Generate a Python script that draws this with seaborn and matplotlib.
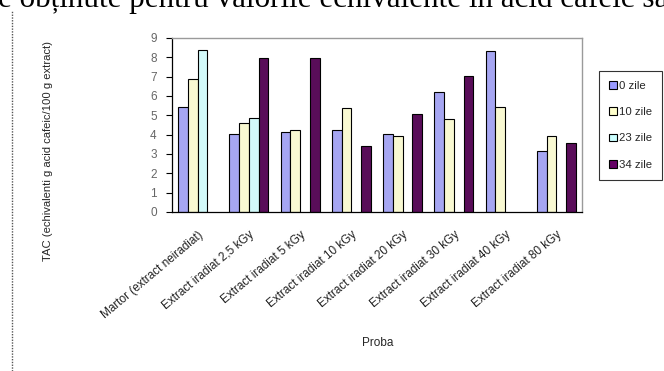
import numpy as np
import pandas as pd
import matplotlib
matplotlib.use("Agg")
import matplotlib.pyplot as plt
from matplotlib.lines import Line2D
from matplotlib.patches import Patch
import seaborn as sns

# Antioxidant capacity per sample and storage time
categories = [
    "Martor (extract neiradiat)",
    "Extract iradiat 2,5 kGy",
    "Extract iradiat 5 kGy",
    "Extract iradiat 10 kGy",
    "Extract iradiat 20 kGy",
    "Extract iradiat 30 kGy",
    "Extract iradiat 40 kGy",
    "Extract iradiat 80 kGy",
]
series = ["0 zile", "10 zile", "23 zile", "34 zile"]
zile_0 = [5.45, 4.04, 4.16, 4.25, 4.06, 6.20, 8.33, 3.14]
zile_10 = [6.88, 4.58, 4.25, 5.38, 3.95, 4.79, 5.45, 3.95]
zile_23 = [8.40, 4.84, np.nan, np.nan, np.nan, np.nan, np.nan, np.nan]
zile_34 = [np.nan, 7.96, 7.96, 3.41, 5.05, 7.02, np.nan, 3.57]
y_ticks = list(range(0, 10))

colors = ["#9999FF", "#FFFFCC", "#CCFFFF", "#660066"]

rows = []
for name, vals in zip(series, [zile_0, zile_10, zile_23, zile_34]):
    for cat, v in zip(categories, vals):
        if not np.isnan(v):
            rows.append({"Proba": cat, "TAC": v, "Serie": name})
df = pd.DataFrame(rows)

sns.set_style("white")
plt.rcParams["font.family"] = ["Liberation Sans", "DejaVu Sans"]

fig = plt.figure(figsize=(6.64, 3.71), dpi=100)
ax = fig.add_axes([172 / 664, 1 - 212 / 371, 410 / 664, 174 / 371])

sns.barplot(
    data=df, x="Proba", y="TAC", hue="Serie",
    order=categories, hue_order=series, palette=colors,
    width=0.76, edgecolor="black", linewidth=0.8,
    errorbar=None, legend=False, ax=ax,
)

ax.set_xlim(-0.5, len(categories) - 0.5)
ax.set_ylim(0, 9)
ax.set_yticks(y_ticks)
ax.set_yticklabels([str(t) for t in y_ticks], fontsize=8.5, color="#666666")

# category ticks sit between the groups
ax.set_xticks(range(len(categories)))
ax.set_xticklabels(categories, rotation=40, ha="right", rotation_mode="anchor",
                   fontsize=8.5, color="#222222")
ax.set_xticks(np.arange(-0.5, len(categories), 1.0), minor=True)
ax.tick_params(axis="x", which="major", length=0, pad=12)
ax.tick_params(axis="x", which="minor", length=4, width=0.8, color="black", direction="out")
ax.tick_params(axis="y", length=4, width=0.8, color="black", direction="out", pad=7, left=True)

for side in ["left", "bottom"]:
    ax.spines[side].set_color("black")
    ax.spines[side].set_linewidth(0.9)
for side in ["top", "right"]:
    ax.spines[side].set_color("#9a9a9a")
    ax.spines[side].set_linewidth(1.0)

ax.set_xlabel("Proba", fontsize=8.5)
ax.set_ylabel("TAC (echivalenti g acid cafeic/100 g extract)", fontsize=8.1)
ax.xaxis.set_label_coords(206 / 410, -125 / 174)
ax.yaxis.set_label_coords(-119 / 410, 0.35)

handles = [Patch(facecolor=c, edgecolor="black", linewidth=0.8) for c in colors]
leg = fig.legend(
    handles, series, loc="upper left", bbox_to_anchor=(599 / 664, 1 - 71 / 371),
    frameon=True, fontsize=8.2, handlelength=0.7, handleheight=0.7,
    handletextpad=0.2, labelspacing=1.44, borderpad=0.85, borderaxespad=0,
    fancybox=False,
)
leg.get_frame().set_edgecolor("black")
leg.get_frame().set_linewidth(0.8)

# page text above the chart and the frame border on the left
fig.text(-2 / 664, 1 - 7 / 371, "e obținute pentru valorile echivalente în acid cafeic sa",
         family="Liberation Serif", fontsize=22.4, ha="left", va="baseline", color="black")
fig.add_artist(Line2D([12 / 664, 12 / 664], [0, 1 - 10 / 371], transform=fig.transFigure,
                      color="#555555", linewidth=1.0, linestyle=(0, (1, 1))))

fig.savefig("out.png", dpi=100)
